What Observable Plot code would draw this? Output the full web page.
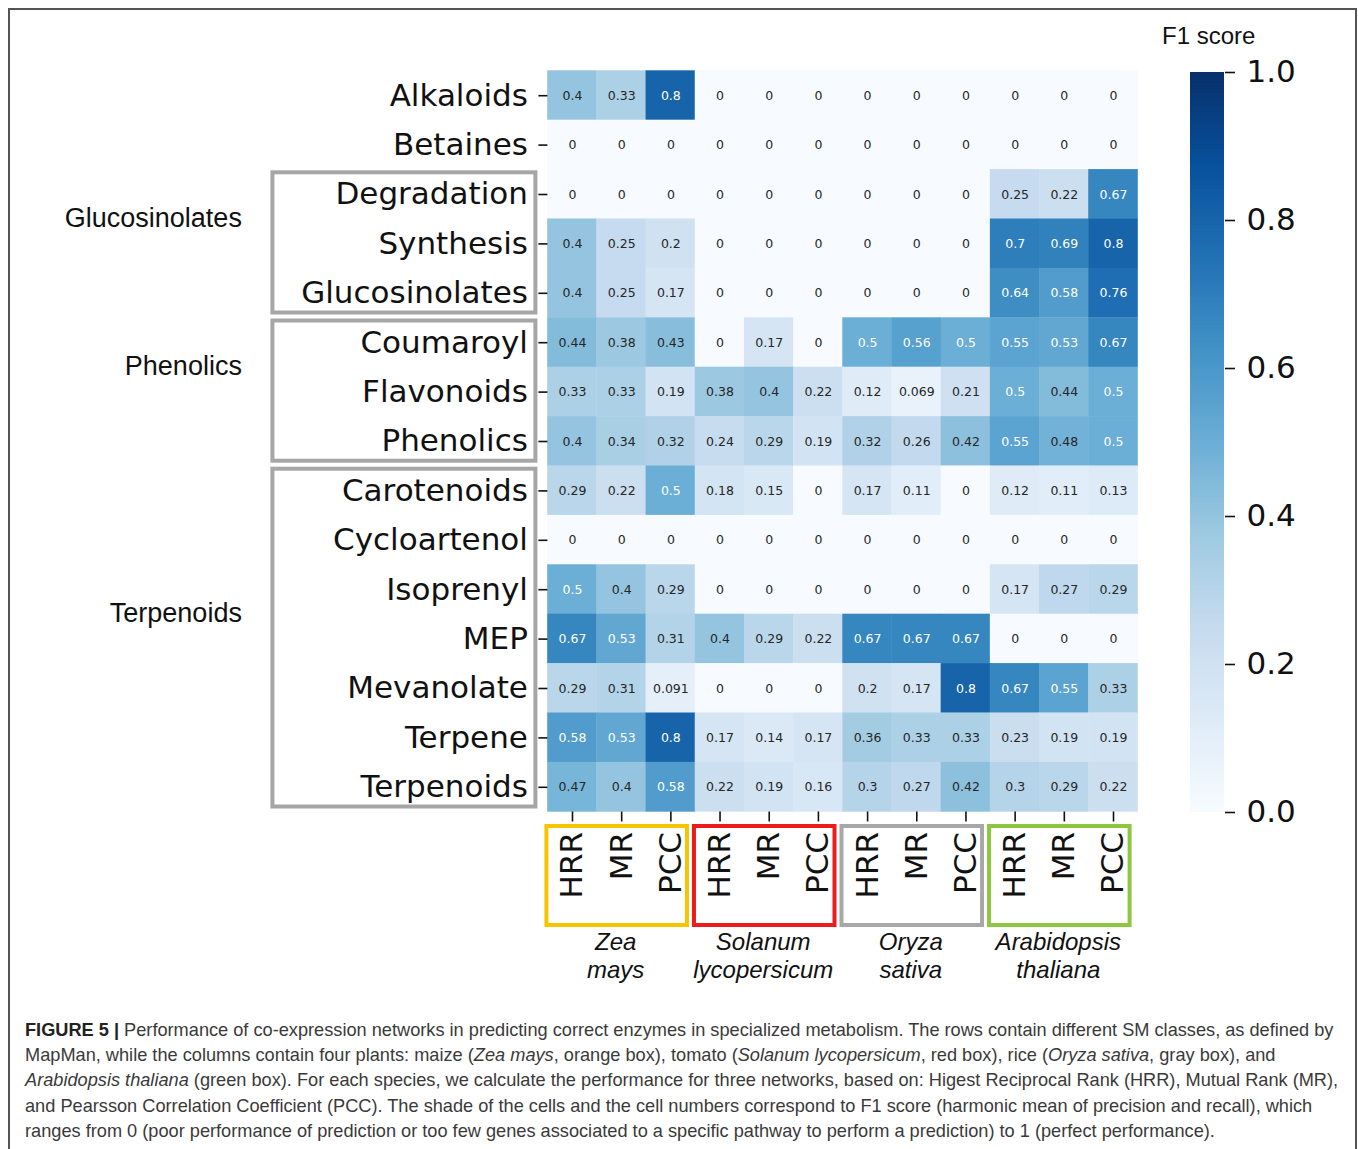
<!DOCTYPE html>
<html><head><meta charset="utf-8">
<script src="https://cdn.jsdelivr.net/npm/d3@7"></script>
<script src="https://cdn.jsdelivr.net/npm/@observablehq/plot@0.6"></script>
<style>
body{margin:0;background:#fff;position:relative;width:1358px;height:1149px;overflow:hidden;font-family:"Liberation Sans",Arial,sans-serif;}
#frame{position:absolute;left:8px;top:8px;width:1349px;height:1180px;border:2px solid #555;box-sizing:border-box;}
#main{position:absolute;left:0;top:0}
#cbar{position:absolute;left:1150px;top:0}
#cbtitle{position:absolute;left:1162px;top:21px;font-size:24px;color:#111;line-height:30px}
#caption{position:absolute;left:25px;top:1018px;font-size:18.2px;line-height:25.2px;color:#3a3a3a;white-space:nowrap}
#caption b{color:#222}
</style></head>
<body>
<div id="frame"></div>
<div id="main"></div>
<div id="cbar"></div>
<div id="cbtitle">F1 score</div>
<div id="caption">
<div><b>FIGURE 5 |</b> Performance of co-expression networks in predicting correct enzymes in specialized metabolism. The rows contain different SM classes, as defined by</div>
<div>MapMan, while the columns contain four plants: maize (<i>Zea mays</i>, orange box), tomato (<i>Solanum lycopersicum</i>, red box), rice (<i>Oryza sativa</i>, gray box), and</div>
<div><i>Arabidopsis thaliana</i> (green box). For each species, we calculate the performance for three networks, based on: Higest Reciprocal Rank (HRR), Mutual Rank (MR),</div>
<div>and Pearsson Correlation Coefficient (PCC). The shade of the cells and the cell numbers correspond to F1 score (harmonic mean of precision and recall), which</div>
<div>ranges from 0 (poor performance of prediction or too few genes associated to a specific pathway to perform a prediction) to 1 (perfect performance).</div>
</div>
<script>
// ---- data ----
const rowNames = ["Alkaloids","Betaines","Degradation","Synthesis","Glucosinolates","Coumaroyl","Flavonoids","Phenolics","Carotenoids","Cycloartenol","Isoprenyl","MEP","Mevanolate","Terpene","Terpenoids"];
const species = ["Zea\nmays","Solanum\nlycopersicum","Oryza\nsativa","Arabidopsis\nthaliana"];
const methods = ["HRR","MR","PCC"];
const rowGroups = ["Glucosinolates","Phenolics","Terpenoids"];
const rowGroupFrom = ["Degradation","Coumaroyl","Carotenoids"];
const rowGroupTo = ["Glucosinolates","Phenolics","Terpenoids"];

const f1Alkaloids      = [0.4, 0.33, 0.8, 0, 0, 0, 0, 0, 0, 0, 0, 0];
const f1Betaines       = [0, 0, 0, 0, 0, 0, 0, 0, 0, 0, 0, 0];
const f1Degradation    = [0, 0, 0, 0, 0, 0, 0, 0, 0, 0.25, 0.22, 0.67];
const f1Synthesis      = [0.4, 0.25, 0.2, 0, 0, 0, 0, 0, 0, 0.7, 0.69, 0.8];
const f1Glucosinolates = [0.4, 0.25, 0.17, 0, 0, 0, 0, 0, 0, 0.64, 0.58, 0.76];
const f1Coumaroyl      = [0.44, 0.38, 0.43, 0, 0.17, 0, 0.5, 0.56, 0.5, 0.55, 0.53, 0.67];
const f1Flavonoids     = [0.33, 0.33, 0.19, 0.38, 0.4, 0.22, 0.12, 0.069, 0.21, 0.5, 0.44, 0.5];
const f1Phenolics      = [0.4, 0.34, 0.32, 0.24, 0.29, 0.19, 0.32, 0.26, 0.42, 0.55, 0.48, 0.5];
const f1Carotenoids    = [0.29, 0.22, 0.5, 0.18, 0.15, 0, 0.17, 0.11, 0, 0.12, 0.11, 0.13];
const f1Cycloartenol   = [0, 0, 0, 0, 0, 0, 0, 0, 0, 0, 0, 0];
const f1Isoprenyl      = [0.5, 0.4, 0.29, 0, 0, 0, 0, 0, 0, 0.17, 0.27, 0.29];
const f1MEP            = [0.67, 0.53, 0.31, 0.4, 0.29, 0.22, 0.67, 0.67, 0.67, 0, 0, 0];
const f1Mevanolate     = [0.29, 0.31, 0.091, 0, 0, 0, 0.2, 0.17, 0.8, 0.67, 0.55, 0.33];
const f1Terpene        = [0.58, 0.53, 0.8, 0.17, 0.14, 0.17, 0.36, 0.33, 0.33, 0.23, 0.19, 0.19];
const f1Terpenoids     = [0.47, 0.4, 0.58, 0.22, 0.19, 0.16, 0.3, 0.27, 0.42, 0.3, 0.29, 0.22];
const f1Rows = [f1Alkaloids,f1Betaines,f1Degradation,f1Synthesis,f1Glucosinolates,f1Coumaroyl,f1Flavonoids,f1Phenolics,f1Carotenoids,f1Cycloartenol,f1Isoprenyl,f1MEP,f1Mevanolate,f1Terpene,f1Terpenoids];

const colorbarTicks = [0, 0.2, 0.4, 0.6, 0.8, 1.0];

// ---- styles ----
const blues9 = ["#f7fbff","#deebf7","#c6dbef","#9ecae1","#6baed6","#4292c6","#2171b5","#08519c","#08306b"];
const speciesBoxColors = ["#f6c500","#ec1c1c","#a8a8a8","#8dc63f"];
const colorScale = {type:"linear", domain: blues9.map((_, i) => i / 8), range: blues9, interpolate: "rgb"};

const colLabels = species.flatMap(() => methods);
const cells = rowNames.flatMap((r, ri) => f1Rows[ri].map((v, ci) => ({row: r, ri, col: colLabels[ci], ci, value: v})));
const nRows = rowNames.length, nCols = colLabels.length;
const groupData = rowGroups.map((name, i) => ({name, a: rowNames.indexOf(rowGroupFrom[i]), b: rowNames.indexOf(rowGroupTo[i]) + 1}));
const speciesData = species.map((label, i) => ({label, a: i * methods.length, b: (i + 1) * methods.length}));

const main = Plot.plot({
  width: 1150, height: 1000,
  marginLeft: 547.4, marginRight: 12.4, marginTop: 70.5, marginBottom: 188.5,
  style: {fontFamily: "DejaVu Sans", background: "transparent", color: "#111"},
  x: {domain: [0, nCols], axis: null},
  y: {domain: [0, nRows], reverse: true, axis: null},
  color: colorScale,
  marks: [
    Plot.rect(cells, {x1: "ci", x2: d => d.ci + 1, y1: "ri", y2: d => d.ri + 1, fill: "value", inset: -0.2}),
    Plot.text(cells.filter(d => d.value < 0.49), {x: d => d.ci + 0.5, y: d => d.ri + 0.5, text: d => String(d.value), fill: "#262626", fontSize: 12.5}),
    Plot.text(cells.filter(d => d.value >= 0.49), {x: d => d.ci + 0.5, y: d => d.ri + 0.5, text: d => String(d.value), fill: "#ffffff", fontSize: 12.5}),
    Plot.axisY(rowNames.map((_, i) => i + 0.5), {anchor: "left", tickFormat: d => rowNames[Math.floor(d)], tickSize: 9, tickPadding: 11, fontSize: 31, strokeWidth: 1.6, label: null}),
    Plot.axisX(colLabels.map((_, i) => i + 0.5), {anchor: "bottom", tickFormat: d => colLabels[Math.floor(d)], tickRotate: -90, tickSize: 10, tickPadding: 10, fontSize: 31, strokeWidth: 1.6, label: null}),
    Plot.rect(groupData, {x1: 0, x2: 0, y1: "a", y2: "b", fill: "none", stroke: "#a6a6a6", strokeWidth: 4, insetLeft: -275, insetRight: 12, insetTop: 3, insetBottom: 5}),
    Plot.text(groupData, {x: 0, y: d => (d.a + d.b) / 2, text: "name", textAnchor: "end", dx: -306, dy: -26, fontSize: 27, fontFamily: "Liberation Sans", fill: "#111"}),
    ...speciesData.map((d, i) => Plot.rect([d], {x1: "a", x2: "b", y1: nRows, y2: nRows, fill: "none", stroke: speciesBoxColors[i], strokeWidth: 4, insetLeft: -1, insetRight: 8, insetTop: 14.5, insetBottom: -113.5})),
    Plot.text(speciesData, {x: d => (d.a + d.b) / 2, y: nRows, text: "label", dx: -6, dy: 143, lineAnchor: "middle", lineHeight: 1.17, fontSize: 24, fontStyle: "italic", fontFamily: "Liberation Sans", fill: "#111"})
  ]
});
document.getElementById("main").append(main);

const step = 0.002;
const ramp = d3.range(0, 1, step);
const cbar = Plot.plot({
  width: 208, height: 850,
  marginLeft: 40, marginRight: 134, marginTop: 72, marginBottom: 38,
  style: {fontFamily: "DejaVu Sans", background: "transparent", color: "#111"},
  x: {domain: [0, 1], axis: null},
  y: {domain: [0, 1], axis: null},
  color: colorScale,
  marks: [
    Plot.rect(ramp, {x1: 0, x2: 1, y1: d => d, y2: d => Math.min(1, d + step * 2), fill: d => d + step / 2}),
    Plot.axisY(colorbarTicks, {anchor: "right", tickFormat: d3.format(".1f"), tickSize: 10, tickPadding: 12, fontSize: 31, strokeWidth: 1.6, label: null})
  ]
});
document.getElementById("cbar").append(cbar);
</script>
</body></html>
